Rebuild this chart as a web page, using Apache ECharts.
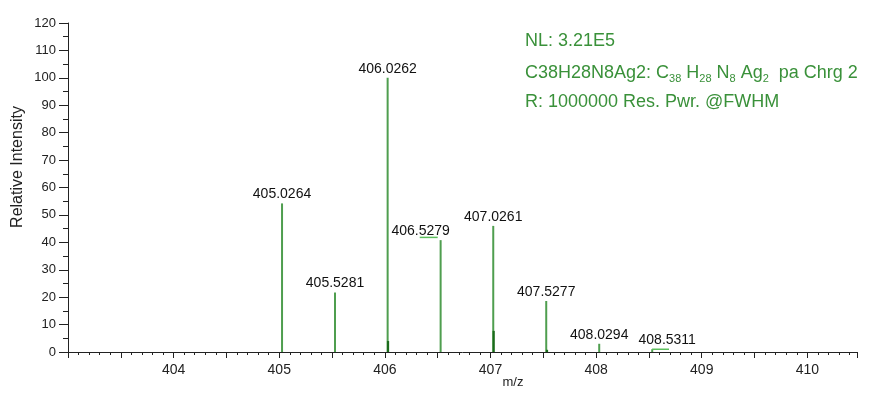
<!DOCTYPE html>
<html><head><meta charset="utf-8">
<script src="https://cdn.jsdelivr.net/npm/echarts@6/dist/echarts.min.js"></script>
<style>html,body{margin:0;padding:0;background:#fff}#c{width:874px;height:394px}</style>
</head><body><div id="c"></div><script>
// ---- data ----
const peakMz = [405.0264, 405.5281, 406.0262, 406.5279, 407.0261, 407.5277, 408.0294, 408.5311];
const peakIntensity = [54.2, 21.7, 100, 40.8, 46, 18.6, 3.0, 1.0];
const peakLabels = ['405.0264', '405.5281', '406.0262', '406.5279', '407.0261', '407.5277', '408.0294', '408.5311'];
const innerMz = [406.03, 407.03, 407.535];
const innerIntensity = [4.0, 7.7, 0.8];
const flatStart = [406.33, 408.53];
const flatEnd = [406.50, 408.69];
const flatIntensity = [41.8, 1.0];
const xTickLabels = ['404', '405', '406', '407', '408', '409', '410'];
const yTickLabels = ['0', '10', '20', '30', '40', '50', '60', '70', '80', '90', '100', '110', '120'];
const infoLines = ['NL: 3.21E5', 'C38H28N8Ag2: C38 H28 N8 Ag2  pa Chrg 2', 'R: 1000000 Res. Pwr. @FWHM'];

// ---- styles ----
const FONT = 'Liberation Sans, Arial, sans-serif';
const GREEN = '#4f9e4f';
const DARK = '#1b6b1b';
const INFO = '#3a913a';
const labelDx = {3: -20, 7: 15};

const chart = echarts.init(document.getElementById('c'));

const peakData = peakMz.map((m, i) => [m, peakIntensity[i], i]);
const innerData = innerMz.map((m, i) => [m, innerIntensity[i]]);
const flatData = flatStart.map((s, i) => [s, flatEnd[i], flatIntensity[i]]);

function setAlign(style, a, v) {
  style.align = a; style.textAlign = a; style.verticalAlign = v; style.textVerticalAlign = v;
  return style;
}

const info2 = '{n|C38H28N8Ag2: C}{s|38}{n| H}{s|28}{n| N}{s|8}{n| Ag}{s|2}{n|  pa Chrg 2}';

chart.setOption({
  animation: false,
  backgroundColor: '#fff',
  grid: {left: 68, right: 17, top: 23, bottom: 42, containLabel: false},
  xAxis: {
    type: 'value', min: 403, max: 410.47, interval: 0.5,
    axisLine: {lineStyle: {color: '#222', width: 1}},
    axisTick: {show: true, inside: false, length: 6, lineStyle: {color: '#222'}},
    minorTick: {show: true, splitNumber: 5, length: 3, lineStyle: {color: '#222'}},
    splitLine: {show: false}, minorSplitLine: {show: false},
    axisLabel: {
      margin: 11, color: '#222', fontFamily: FONT, fontSize: 14,
      formatter: v => { const k = xTickLabels.indexOf(String(v)); return k >= 0 ? xTickLabels[k] : ''; }
    }
  },
  yAxis: {
    type: 'value', min: 0, max: 120, interval: 10,
    axisLine: {show: true, lineStyle: {color: '#222', width: 1}},
    axisTick: {show: true, inside: false, length: 9, lineStyle: {color: '#222'}},
    minorTick: {show: true, splitNumber: 2, length: 5, lineStyle: {color: '#222'}},
    splitLine: {show: false},
    axisLabel: {
      margin: 12, color: '#222', fontFamily: FONT, fontSize: 13,
      formatter: v => { const k = yTickLabels.indexOf(String(v)); return k >= 0 ? yTickLabels[k] : ''; }
    }
  },
  series: [
    {
      type: 'custom', name: 'peaks', data: peakData,
      encode: {x: 0, y: 1},
      renderItem: (params, api) => {
        const x = api.value(0), y = api.value(1), i = api.value(2);
        const p0 = api.coord([x, 0]), p1 = api.coord([x, y]);
        const dx = labelDx[i] || 0;
        return {
          type: 'group', children: [
            {type: 'line', shape: {x1: p0[0], y1: p0[1], x2: p1[0], y2: p1[1]},
             style: {stroke: GREEN, lineWidth: 2}},
            {type: 'text', x: p1[0] + dx, y: p1[1] - 2,
             style: setAlign({text: peakLabels[i], font: '14px ' + FONT, fill: '#111'}, 'center', 'bottom')}
          ]
        };
      }
    },
    {
      type: 'custom', name: 'inner', data: innerData,
      encode: {x: 0, y: 1},
      renderItem: (params, api) => {
        const x = api.value(0), y = api.value(1);
        const p0 = api.coord([x, 0]), p1 = api.coord([x, y]);
        return {type: 'line', shape: {x1: p0[0], y1: p0[1], x2: p1[0], y2: p1[1]},
                style: {stroke: DARK, lineWidth: 2.2}};
      }
    },
    {
      type: 'custom', name: 'flat', data: flatData,
      encode: {x: [0, 1], y: 2},
      renderItem: (params, api) => {
        const a = api.coord([api.value(0), api.value(2)]);
        const b = api.coord([api.value(1), api.value(2)]);
        return {type: 'line', shape: {x1: a[0], y1: a[1], x2: b[0], y2: b[1]},
                style: {stroke: '#5cbf5c', lineWidth: 1.5}};
      }
    }
  ],
  graphic: [
    {type: 'text', x: 525, y: 41,
     style: setAlign({text: infoLines[0], font: '18px ' + FONT, fill: INFO}, 'left', 'middle')},
    {type: 'text', x: 525, y: 73,
     style: setAlign({text: info2, font: '18px ' + FONT, fill: INFO,
       rich: {
         n: {fontSize: 18, fontFamily: FONT, fill: INFO, color: INFO, lineHeight: 22, verticalAlign: 'middle'},
         s: {fontSize: 11, fontFamily: FONT, fill: INFO, color: INFO, lineHeight: 11, verticalAlign: 'bottom'}
       }}, 'left', 'middle')},
    {type: 'text', x: 525, y: 102,
     style: setAlign({text: infoLines[2], font: '18px ' + FONT, fill: INFO}, 'left', 'middle')},
    {type: 'text', x: 513, y: 382,
     style: setAlign({text: 'm/z', font: '13px ' + FONT, fill: '#222'}, 'center', 'middle')},
    {type: 'text', x: 18, y: 167, rotation: Math.PI / 2,
     style: setAlign({text: 'Relative Intensity', font: '16px ' + FONT, fill: '#222'}, 'center', 'middle')}
  ]
});
</script></body></html>
